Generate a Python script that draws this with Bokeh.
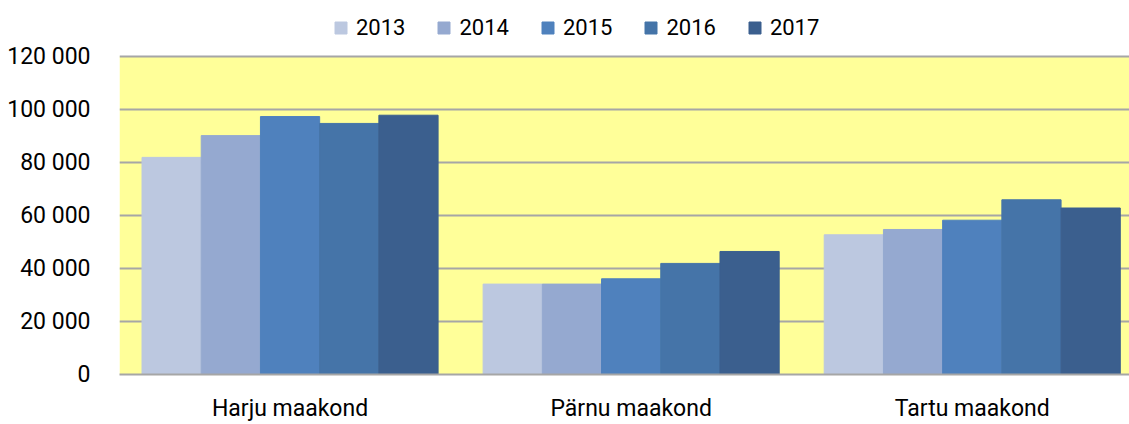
from bokeh.plotting import figure
from bokeh.models import (Range1d, FixedTicker, Legend, LegendItem,
                          ColumnDataSource, BoxAnnotation)
from bokeh.transform import dodge
from bokeh.embed import file_html
from bokeh.resources import INLINE

categories = ["Harju maakond", "Pärnu maakond", "Tartu maakond"]
years = ["2013", "2014", "2015", "2016", "2017"]
v2013 = [81900, 34100, 52700]
v2014 = [90100, 34100, 54700]
v2015 = [97300, 36100, 58200]
v2016 = [94700, 41900, 65900]
v2017 = [97800, 46400, 62800]
y_ticks = [0, 20000, 40000, 60000, 80000, 100000, 120000]
y_tick_labels = ["0", "20 000", "40 000", "60 000", "80 000", "100 000", "120 000"]
y_max = 120000

colors = ["#BCC8E0", "#95A9D0", "#4F81BD", "#4574A8", "#3B5F8E"]
FONT = "Roboto"

# category slots: slot i spans [i, i+1], centre at i + 0.5
xc = [i + 0.5 for i in range(len(categories))]
src = ColumnDataSource(dict(x=xc, cat=categories, v2013=v2013, v2014=v2014,
                            v2015=v2015, v2016=v2016, v2017=v2017))

# frame spans the full height above the x axis; the yellow plot area covers 0..y_max
frame_h = 375
plot_h = 319
p = figure(width=1129, height=424, output_backend="svg", toolbar_location=None,
           x_range=Range1d(0, 2.961),
           y_range=Range1d(0, y_max * frame_h / plot_h),
           min_border_left=119, min_border_right=0, min_border_top=0, min_border_bottom=49)
p.outline_line_color = None
p.background_fill_color = "white"
p.border_fill_color = "white"

p.add_layout(BoxAnnotation(bottom=0, top=y_max, fill_color="#FFFF99", fill_alpha=1,
                           line_color=None, level="image"))

bw = 0.1736
renderers = []
for i, (yr, c) in enumerate(zip(years, colors)):
    r = p.vbar(x=dodge("x", (i - 2) * bw), top="v" + yr, width=bw,
               source=src, fill_color=c, line_color=c)
    renderers.append(r)

p.xgrid.grid_line_color = None
p.ygrid.grid_line_color = "#A6A6A6"
p.ygrid.grid_line_width = 2
p.yaxis.ticker = FixedTicker(ticks=y_ticks)
p.yaxis.major_label_overrides = {t: l for t, l in zip(y_ticks, y_tick_labels)}
p.yaxis.axis_line_color = None
p.yaxis.major_tick_line_color = None
p.yaxis.minor_tick_line_color = None
p.yaxis.major_label_standoff = 23
p.yaxis.major_label_text_font = FONT
p.yaxis.major_label_text_font_size = "23px"
p.yaxis.major_label_text_color = "#000000"

p.xaxis.ticker = FixedTicker(ticks=xc)
p.xaxis.major_label_overrides = {x: c for x, c in zip(xc, categories)}
p.xaxis.axis_line_color = "#A6A6A6"
p.xaxis.axis_line_width = 2
p.xaxis.major_tick_line_color = None
p.xaxis.minor_tick_line_color = None
p.xaxis.major_label_standoff = 14
p.xaxis.major_label_text_font = FONT
p.xaxis.major_label_text_font_size = "23px"
p.xaxis.major_label_text_color = "#000000"

legend = Legend(items=[LegendItem(label=yr, renderers=[r]) for yr, r in zip(years, renderers)],
                orientation="horizontal", location=(214, 334),
                glyph_width=15, glyph_height=15, label_standoff=8, spacing=31,
                padding=0, margin=0, border_line_color=None, background_fill_alpha=0,
                label_text_font=FONT, label_text_font_size="22px", label_text_color="#000000")
p.add_layout(legend, "center")

open("out.html", "w").write(file_html(p, INLINE))
